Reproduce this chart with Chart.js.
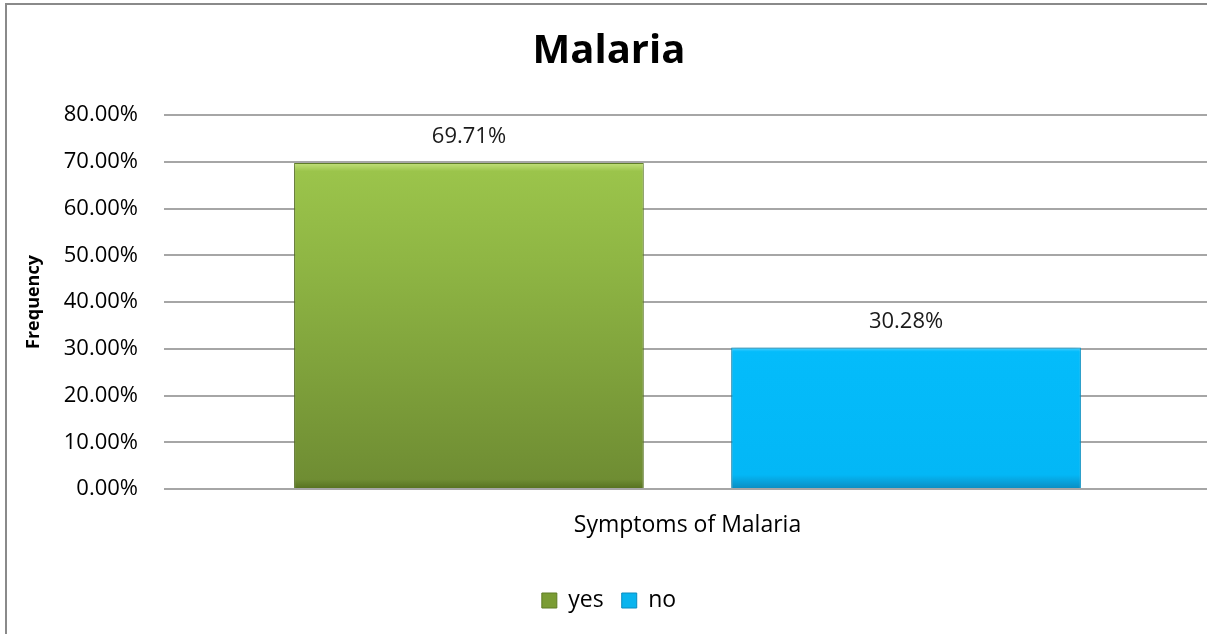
<!DOCTYPE html>
<html>
<head>
<meta charset="utf-8">
<title>Malaria</title>
<script src="https://cdn.jsdelivr.net/npm/chart.js@4"></script>
<style>
    html, body { margin: 0; padding: 0; background: #fff; overflow: hidden; }
    body { width: 1300px; height: 700px; position: relative; }
    .frame {
        position: absolute;
        left: 5px;
        top: 3px;
        border-left: 2px solid #8a8a8a;
        border-top: 2px solid #8a8a8a;
    }
    canvas { display: block; }
</style>
</head>
<body>
<div class="frame">
    <canvas id="malariaChart" width="1250" height="660"></canvas>
</div>
<script>
// --- Data ---
const categories = ['Symptoms of Malaria'];
const seriesNames = ['yes', 'no'];
const yesValues = [69.71];
const noValues = [30.28];
const yTicks = [0, 10, 20, 30, 40, 50, 60, 70, 80];

const FONT = "'Open Sans', sans-serif";

// vertical gradient running from the top of a bar down to the axis
function barGradient(ctx, stops) {
    const chart = ctx.chart;
    const { chartArea, scales } = chart;
    if (!chartArea || !scales.y) return stops[0][1];
    const v = ctx.raw;
    const top = scales.y.getPixelForValue(v);
    const bottom = scales.y.getPixelForValue(0);
    const g = chart.ctx.createLinearGradient(0, top, 0, bottom);
    stops.forEach(s => g.addColorStop(s[0], s[1]));
    return g;
}

const greenStops = [[0, '#c2e07a'], [0.025, '#9bc44b'], [0.3, '#8fb644'], [0.97, '#6f8d33'], [1, '#55701f']];
const blueStops = [[0, '#4fd2ff'], [0.03, '#04bcfb'], [0.9, '#03b7f6'], [1, '#0a8cc0']];

// value labels above the bars
const valueLabels = {
    id: 'valueLabels',
    afterDatasetsDraw(chart) {
        const ctx = chart.ctx;
        ctx.save();
        ctx.font = '22px ' + FONT;
        ctx.fillStyle = '#1a1a1a';
        ctx.textAlign = 'center';
        ctx.textBaseline = 'middle';
        chart.data.datasets.forEach((ds, i) => {
            chart.getDatasetMeta(i).data.forEach((bar, j) => {
                ctx.fillText(ds.data[j].toFixed(2) + '%', bar.x, bar.y - 26);
            });
        });
        ctx.restore();
    }
};

// soft drop shadow behind the bars
const barShadow = {
    id: 'barShadow',
    beforeDatasetsDraw(chart) {
        const ctx = chart.ctx;
        ctx.save();
        ctx.shadowColor = 'rgba(0,0,0,0.35)';
        ctx.shadowBlur = 6;
        ctx.shadowOffsetX = -1;
        ctx.shadowOffsetY = 1;
    },
    afterDatasetsDraw(chart) {
        chart.ctx.restore();
    }
};

new Chart(document.getElementById('malariaChart'), {
    type: 'bar',
    data: {
        labels: categories,
        datasets: [
            {
                label: seriesNames[0],
                data: yesValues,
                backgroundColor: c => barGradient(c, greenStops),
                borderColor: '#6a8a2c',
                borderWidth: 1,
                categoryPercentage: 0.835,
                barPercentage: 0.8
            },
            {
                label: seriesNames[1],
                data: noValues,
                backgroundColor: c => barGradient(c, blueStops),
                borderColor: '#0aa4dc',
                borderWidth: 1,
                categoryPercentage: 0.835,
                barPercentage: 0.8
            }
        ]
    },
    options: {
        responsive: false,
        animation: false,
        devicePixelRatio: 1,
        layout: { padding: { left: 0, right: 46, top: 0, bottom: 43 } },
        plugins: {
            title: {
                display: true,
                text: 'Malaria',
                color: '#000',
                font: { family: FONT, size: 40, weight: 'bold' },
                padding: { top: 23, bottom: 39 }
            },
            legend: {
                position: 'bottom',
                labels: {
                    color: '#000',
                    font: { family: FONT, size: 23 },
                    boxWidth: 15,
                    boxHeight: 15,
                    padding: 18,
                    generateLabels(chart) {
                        return seriesNames.map((name, i) => ({
                            text: name,
                            fillStyle: i === 0 ? '#7a9c34' : '#0ab4ee',
                            strokeStyle: i === 0 ? '#5f7d25' : '#0a8cc0',
                            lineWidth: 1,
                            datasetIndex: i
                        }));
                    }
                }
            },
            tooltip: { enabled: false }
        },
        scales: {
            x: {
                grid: { display: false },
                border: { display: false },
                afterFit(scale) {
                    scale.height = 82;
                },
                ticks: {
                    color: '#000',
                    font: { family: FONT, size: 23 },
                    padding: 15
                }
            },
            y: {
                min: 0,
                max: 80,
                afterBuildTicks(scale) {
                    scale.ticks = yTicks.map(v => ({ value: v }));
                },
                afterFit(scale) {
                    scale.width = 157;
                },
                grid: {
                    color: '#a6a6a6',
                    lineWidth: 2,
                    drawTicks: false
                },
                border: { display: false },
                ticks: {
                    color: '#000',
                    font: { family: FONT, size: 22 },
                    padding: 26,
                    callback: v => v.toFixed(2) + '%'
                },
                title: {
                    display: true,
                    text: 'Frequency',
                    color: '#000',
                    font: { family: FONT, size: 18, weight: 'bold' },
                    padding: { top: 16, bottom: 0 }
                }
            }
        }
    },
    plugins: [barShadow, valueLabels]
});
</script>
</body>
</html>
